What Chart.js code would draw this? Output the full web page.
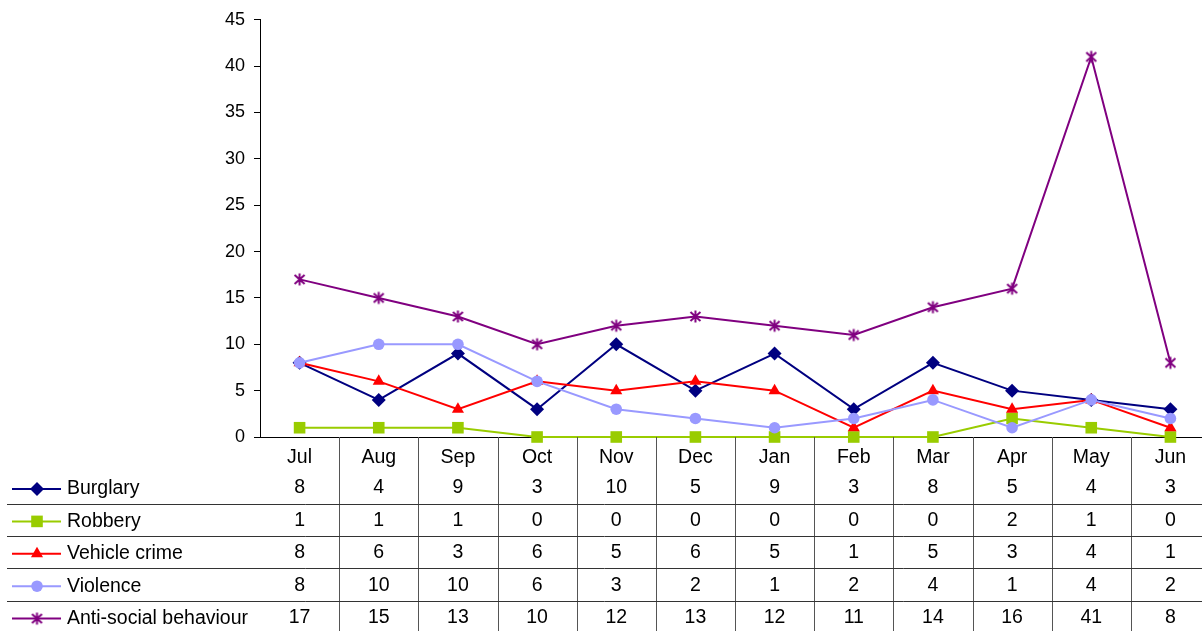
<!DOCTYPE html>
<html>
<head>
<meta charset="utf-8">
<script src="https://cdn.jsdelivr.net/npm/chart.js@4.4.1/dist/chart.umd.min.js"></script>
<style>
  html, body { margin: 0; padding: 0; background: #fff; overflow: hidden; }
  #wrap { position: relative; width: 1202px; height: 631px; }
</style>
</head>
<body>
<div id="wrap"><canvas id="crimeChart" width="1202" height="631"></canvas></div>
<script>
// data
const months = ['Jul', 'Aug', 'Sep', 'Oct', 'Nov', 'Dec', 'Jan', 'Feb', 'Mar', 'Apr', 'May', 'Jun'];
const burglary = [8, 4, 9, 3, 10, 5, 9, 3, 8, 5, 4, 3];
const robbery = [1, 1, 1, 0, 0, 0, 0, 0, 0, 2, 1, 0];
const vehicleCrime = [8, 6, 3, 6, 5, 6, 5, 1, 5, 3, 4, 1];
const violence = [8, 10, 10, 6, 3, 2, 1, 2, 4, 1, 4, 2];
const antiSocial = [17, 15, 13, 10, 12, 13, 12, 11, 14, 16, 41, 8];
const seriesNames = ['Burglary', 'Robbery', 'Vehicle crime', 'Violence', 'Anti-social behaviour'];
const yTickValues = [0, 5, 10, 15, 20, 25, 30, 35, 40, 45];

const FONT = 'Arial, "Liberation Sans", sans-serif';
const TABLE_FONT_SIZE = 19.5;
const PLOT_RIGHT = 1210; // plot area runs a bit past the right edge, as in the reference

// Excel style asterisk marker (vertical stroke + X)
function makeAsterisk(color) {
    const c = document.createElement('canvas');
    c.width = 15; c.height = 15;
    const g = c.getContext('2d');
    g.strokeStyle = color;
    g.lineWidth = 2;
    g.beginPath();
    g.moveTo(7.5, 1.5); g.lineTo(7.5, 13.5);
    g.moveTo(2.5, 3); g.lineTo(12.5, 12);
    g.moveTo(12.5, 3); g.lineTo(2.5, 12);
    g.stroke();
    return c;
}
const asterisk = makeAsterisk('#800080');

const styles = [
    { color: '#000080', point: 'rectRot', radius: 7 },
    { color: '#99CC00', point: 'rect', radius: 8.2 },
    { color: '#FF0000', point: 'triangle', radius: 7 },
    { color: '#9999FF', point: 'circle', radius: 5.8 },
    { color: '#800080', point: asterisk, radius: 7 }
];
const seriesValues = [burglary, robbery, vehicleCrime, violence, antiSocial];

// draw a marker for the table legend keys
function drawKey(ctx, style, x, y) {
    ctx.fillStyle = style.color;
    ctx.beginPath();
    const r = style.radius;
    if (style.point === 'rectRot') {
        ctx.moveTo(x, y - r); ctx.lineTo(x + r, y); ctx.lineTo(x, y + r); ctx.lineTo(x - r, y);
        ctx.closePath(); ctx.fill();
    } else if (style.point === 'rect') {
        const s = r * Math.SQRT1_2;
        ctx.fillRect(x - s, y - s, 2 * s, 2 * s);
    } else if (style.point === 'triangle') {
        const h = r * 0.866;
        ctx.moveTo(x, y - r); ctx.lineTo(x + h, y + r / 2); ctx.lineTo(x - h, y + r / 2);
        ctx.closePath(); ctx.fill();
    } else if (style.point === 'circle') {
        ctx.arc(x, y, r, 0, Math.PI * 2); ctx.fill();
    } else {
        ctx.drawImage(style.point, x - 7.5, y - 7.5);
    }
}

// stretch the category axis past the canvas edge
const widenPlugin = {
    id: 'widenPlot',
    afterLayout(chart) {
        const xs = chart.scales.x;
        chart.chartArea.right = PLOT_RIGHT;
        chart.chartArea.width = PLOT_RIGHT - chart.chartArea.left;
        xs.right = PLOT_RIGHT;
        xs.width = PLOT_RIGHT - xs.left;
        xs.configure();
    }
};

const tablePlugin = {
    id: 'dataTable',
    afterDraw(chart) {
        const ctx = chart.ctx;
        const xs = chart.scales.x;
        const area = chart.chartArea;
        const bottom = chart.height;
        const rowTop = 503.5, rowH = 32.4;
        ctx.save();

        // vertical separators between months
        ctx.strokeStyle = '#555';
        ctx.lineWidth = 1;
        for (let k = 1; k < months.length; k++) {
            const px = Math.round((xs.getPixelForValue(k - 1) + xs.getPixelForValue(k)) / 2) + 0.5;
            ctx.beginPath();
            ctx.moveTo(px, area.bottom);
            ctx.lineTo(px, bottom);
            ctx.stroke();
        }
        // horizontal separators between rows
        ctx.strokeStyle = '#333';
        for (let i = 0; i < seriesNames.length - 1; i++) {
            const py = Math.round(rowTop + i * rowH) + 0.5;
            ctx.beginPath();
            ctx.moveTo(7, py);
            ctx.lineTo(chart.width, py);
            ctx.stroke();
        }

        ctx.font = TABLE_FONT_SIZE + 'px ' + FONT;
        ctx.textBaseline = 'middle';
        seriesNames.forEach((name, i) => {
            const cy = rowTop - 15.5 + i * rowH;
            const st = styles[i];
            // key
            ctx.strokeStyle = st.color;
            ctx.lineWidth = 2;
            ctx.beginPath();
            ctx.moveTo(12, cy + 1);
            ctx.lineTo(61, cy + 1);
            ctx.stroke();
            drawKey(ctx, st, 37, cy + 1);
            ctx.fillStyle = '#000';
            ctx.textAlign = 'left';
            ctx.fillText(name, 67, cy + 1);
            // values
            ctx.textAlign = 'center';
            seriesValues[i].forEach((v, j) => {
                ctx.fillText(String(v), xs.getPixelForValue(j), cy);
            });
        });
        ctx.restore();
    }
};

const datasets = seriesNames.map((name, i) => ({
    label: name,
    data: seriesValues[i],
    borderColor: styles[i].color,
    backgroundColor: styles[i].color,
    borderWidth: 2,
    pointStyle: styles[i].point,
    pointRadius: styles[i].radius,
    pointHoverRadius: styles[i].radius,
    pointBorderWidth: 0,
    tension: 0,
    clip: false,
    order: seriesNames.length - i
}));

new Chart(document.getElementById('crimeChart'), {
    type: 'line',
    data: { labels: months, datasets: datasets },
    options: {
        responsive: false,
        animation: false,
        events: [],
        layout: { padding: { top: 19, left: 0, right: 0, bottom: 0 } },
        plugins: {
            legend: { display: false },
            tooltip: { enabled: false },
            title: { display: false }
        },
        scales: {
            x: {
                offset: true,
                grid: { display: false },
                border: { display: true, color: '#000', width: 1 },
                ticks: { color: '#000', font: { family: FONT, size: TABLE_FONT_SIZE }, padding: 1, maxRotation: 0 },
                afterFit(scale) { scale.height = 194; }
            },
            y: {
                min: 0,
                max: 45,
                afterBuildTicks(scale) { scale.ticks = yTickValues.map(v => ({ value: v })); },
                grid: { drawOnChartArea: false, drawTicks: true, tickLength: 6, color: '#000' },
                border: { display: true, color: '#000', width: 1 },
                ticks: { color: '#000', font: { family: FONT, size: 18 }, padding: 9 },
                afterFit(scale) { scale.width = 260; }
            }
        }
    },
    plugins: [widenPlugin, tablePlugin]
});
</script>
</body>
</html>
